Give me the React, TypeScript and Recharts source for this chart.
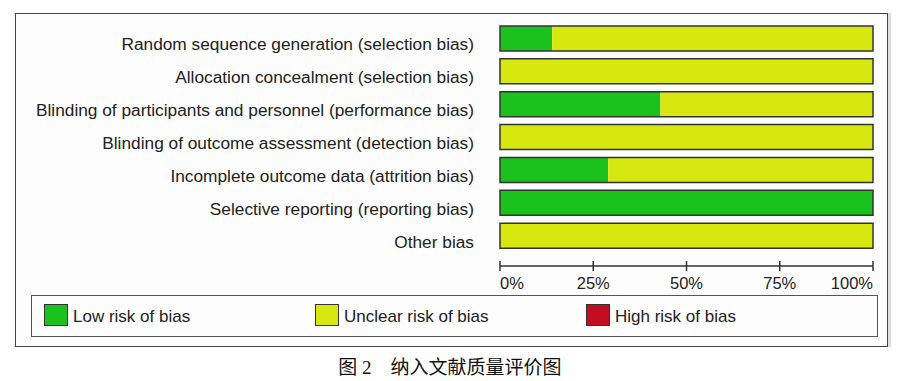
import React from "react";
import { BarChart, Bar, XAxis, YAxis } from "recharts";

const categories = [
  "Random sequence generation (selection bias)",
  "Allocation concealment (selection bias)",
  "Blinding of participants and personnel (performance bias)",
  "Blinding of outcome assessment (detection bias)",
  "Incomplete outcome data (attrition bias)",
  "Selective reporting (reporting bias)",
  "Other bias",
];

// percent of studies per judgement
const lowRisk = [14, 0, 43, 0, 29, 100, 0];
const unclearRisk = [86, 100, 57, 100, 71, 0, 100];
const highRisk = [0, 0, 0, 0, 0, 0, 0];

const xTicks = [0, 25, 50, 75, 100];

const seriesKeys = ["low", "unclear", "high"];
const seriesLabels = ["Low risk of bias", "Unclear risk of bias", "High risk of bias"];
const seriesColors = ["#1bc21d", "#d6e80f", "#c20c22"];

const caption = "图 2　纳入文献质量评价图";

const rows = categories.map((name, i) => ({
  name,
  low: lowRisk[i],
  unclear: unclearRisk[i],
  high: highRisk[i],
  total: lowRisk[i] + unclearRisk[i] + highRisk[i],
}));

const FONT = 'Arial, "Liberation Sans", sans-serif';
const BAR_SIZE = 25;

const XTick = (props: any) => {
  const { x, y, payload, index } = props;
  const last = xTicks.length - 1;
  const anchor = index === 0 ? "start" : index === last ? "end" : "middle";
  return (
    <g>
      <line x1={x} x2={x} y1={y - 5} y2={y + 5} stroke="#333" strokeWidth={1.5} />
      <text x={x} y={y + 23} textAnchor={anchor} fontSize={16.5} fill="#222" fontFamily={FONT}>
        {payload.value}%
      </text>
    </g>
  );
};

const YTick = (props: any) => {
  const { x, y, payload } = props;
  return (
    <text x={x} y={y + 12} textAnchor="end" fontSize={17.3} fill="#222" fontFamily={FONT}>
      {payload.value}
    </text>
  );
};

export default function App() {
  return (
    <div
      style={{
        position: "absolute",
        left: 0,
        top: 0,
        width: 900,
        height: 381,
        background: "#fff",
        fontFamily: FONT,
      }}
    >
      {/* outer frame */}
      <div
        style={{
          position: "absolute",
          left: 15,
          top: 13,
          width: 873,
          height: 334,
          boxSizing: "border-box",
          border: "1.5px solid #444",
          background: "#fdfdfd",
          boxShadow: "3px 0 0 #ddd",
        }}
      />

      <div style={{ position: "absolute", left: 0, top: 0 }}>
        <BarChart
          width={900}
          height={296}
          data={rows}
          layout="vertical"
          margin={{ top: 22, right: 27, bottom: 0, left: 0 }}
          barSize={BAR_SIZE}
          barGap={-BAR_SIZE}
        >
          <XAxis
            type="number"
            domain={[0, 100]}
            ticks={xTicks}
            interval={0}
            axisLine={{ stroke: "#333", strokeWidth: 1.5 }}
            tickLine={false}
            tickSize={0}
            tickMargin={0}
            tick={<XTick />}
            height={30}
          />
          <YAxis
            type="category"
            dataKey="name"
            width={500}
            interval={0}
            axisLine={false}
            tickLine={false}
            tickSize={0}
            tickMargin={26}
            tick={<YTick />}
            padding={{ top: 0, bottom: 14 }}
          />
          {seriesKeys.map((k, i) => (
            <Bar key={k} dataKey={k} stackId="a" fill={seriesColors[i]} isAnimationActive={false} />
          ))}
          {/* outline around each whole bar */}
          <Bar
            dataKey="total"
            stackId="outline"
            fill="none"
            stroke="#333"
            strokeWidth={1.5}
            isAnimationActive={false}
          />
        </BarChart>
      </div>

      {/* legend box */}
      <div
        style={{
          position: "absolute",
          left: 31,
          top: 295,
          width: 847,
          height: 42,
          boxSizing: "border-box",
          border: "1.5px solid #555",
          background: "#fdfdfd",
        }}
      >
        {seriesLabels.map((label, i) => (
          <div
            key={label}
            style={{
              position: "absolute",
              left: 12 + i * 271,
              top: 8,
              display: "flex",
              alignItems: "center",
            }}
          >
            <div
              style={{
                width: 24,
                height: 22,
                boxSizing: "border-box",
                border: "1.5px solid #333",
                background: seriesColors[i],
              }}
            />
            <span style={{ marginLeft: 5, fontSize: 17, color: "#222", lineHeight: "22px", position: "relative", top: 2 }}>
              {label}
            </span>
          </div>
        ))}
      </div>

      <div
        style={{
          position: "absolute",
          left: 0,
          top: 355,
          width: 900,
          textAlign: "center",
          fontSize: 19,
          lineHeight: "26px",
          color: "#111",
          fontFamily: '"Liberation Serif", "Noto Sans CJK SC", serif',
          fontWeight: 400,
        }}
      >
        {caption}
      </div>
    </div>
  );
}
